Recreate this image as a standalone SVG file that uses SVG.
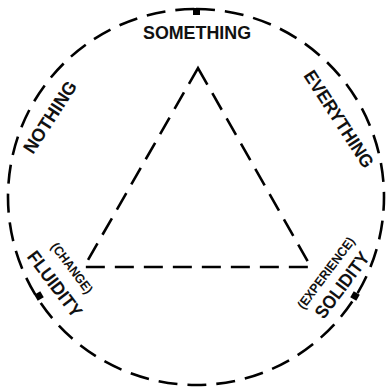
<svg xmlns="http://www.w3.org/2000/svg" width="390" height="389" viewBox="0 0 390 389">
<style>
.ln{fill:none;stroke:#000;stroke-width:2.6;stroke-dasharray:19 10}
.big{font-family:"Liberation Sans",Arial,sans-serif;font-weight:bold;font-size:18.5px;fill:#111;text-anchor:middle;dominant-baseline:central}
.sm{font-family:"Liberation Sans",Arial,sans-serif;font-weight:bold;font-size:13px;fill:#111;text-anchor:middle;dominant-baseline:central}
.mk{fill:#000}
</style>
<rect width="390" height="389" fill="#fff"/>
<g id="connectors">
<circle class="ln" cx="196" cy="197" r="188" transform="rotate(-90 196 197)"/>
<path class="ln" d="M198,68 L311,267 L84,267 Z" stroke-dasharray="17 10"/>
<rect class="mk" x="193" y="8" width="7" height="7"/>
<rect class="mk" x="35.5" y="292.5" width="7" height="7" transform="rotate(-30 39 296)"/>
<rect class="mk" x="351.5" y="292.5" width="7" height="7" transform="rotate(30 355 296)"/>
</g>
<g id="something"><text class="big" x="197" y="32" textLength="108" lengthAdjust="spacingAndGlyphs">SOMETHING</text></g>
<g id="nothing"><text class="big" transform="translate(50,117) rotate(-57)" textLength="82" lengthAdjust="spacingAndGlyphs">NOTHING</text></g>
<g id="everything"><text class="big" transform="translate(339,119) rotate(57)" textLength="112" lengthAdjust="spacingAndGlyphs">EVERYTHING</text></g>
<g id="fluidity">
<text class="big" transform="translate(55,284) rotate(53)" textLength="78" lengthAdjust="spacingAndGlyphs">FLUIDITY</text>
<text class="sm" transform="translate(72,268) rotate(53)" textLength="60" lengthAdjust="spacingAndGlyphs">(CHANGE)</text>
</g>
<g id="solidity">
<text class="big" transform="translate(342,285) rotate(-53)" textLength="78" lengthAdjust="spacingAndGlyphs">SOLIDITY</text>
<text class="sm" transform="translate(326,273) rotate(-53)" textLength="86" lengthAdjust="spacingAndGlyphs">(EXPERIENCE)</text>
</g>
</svg>
